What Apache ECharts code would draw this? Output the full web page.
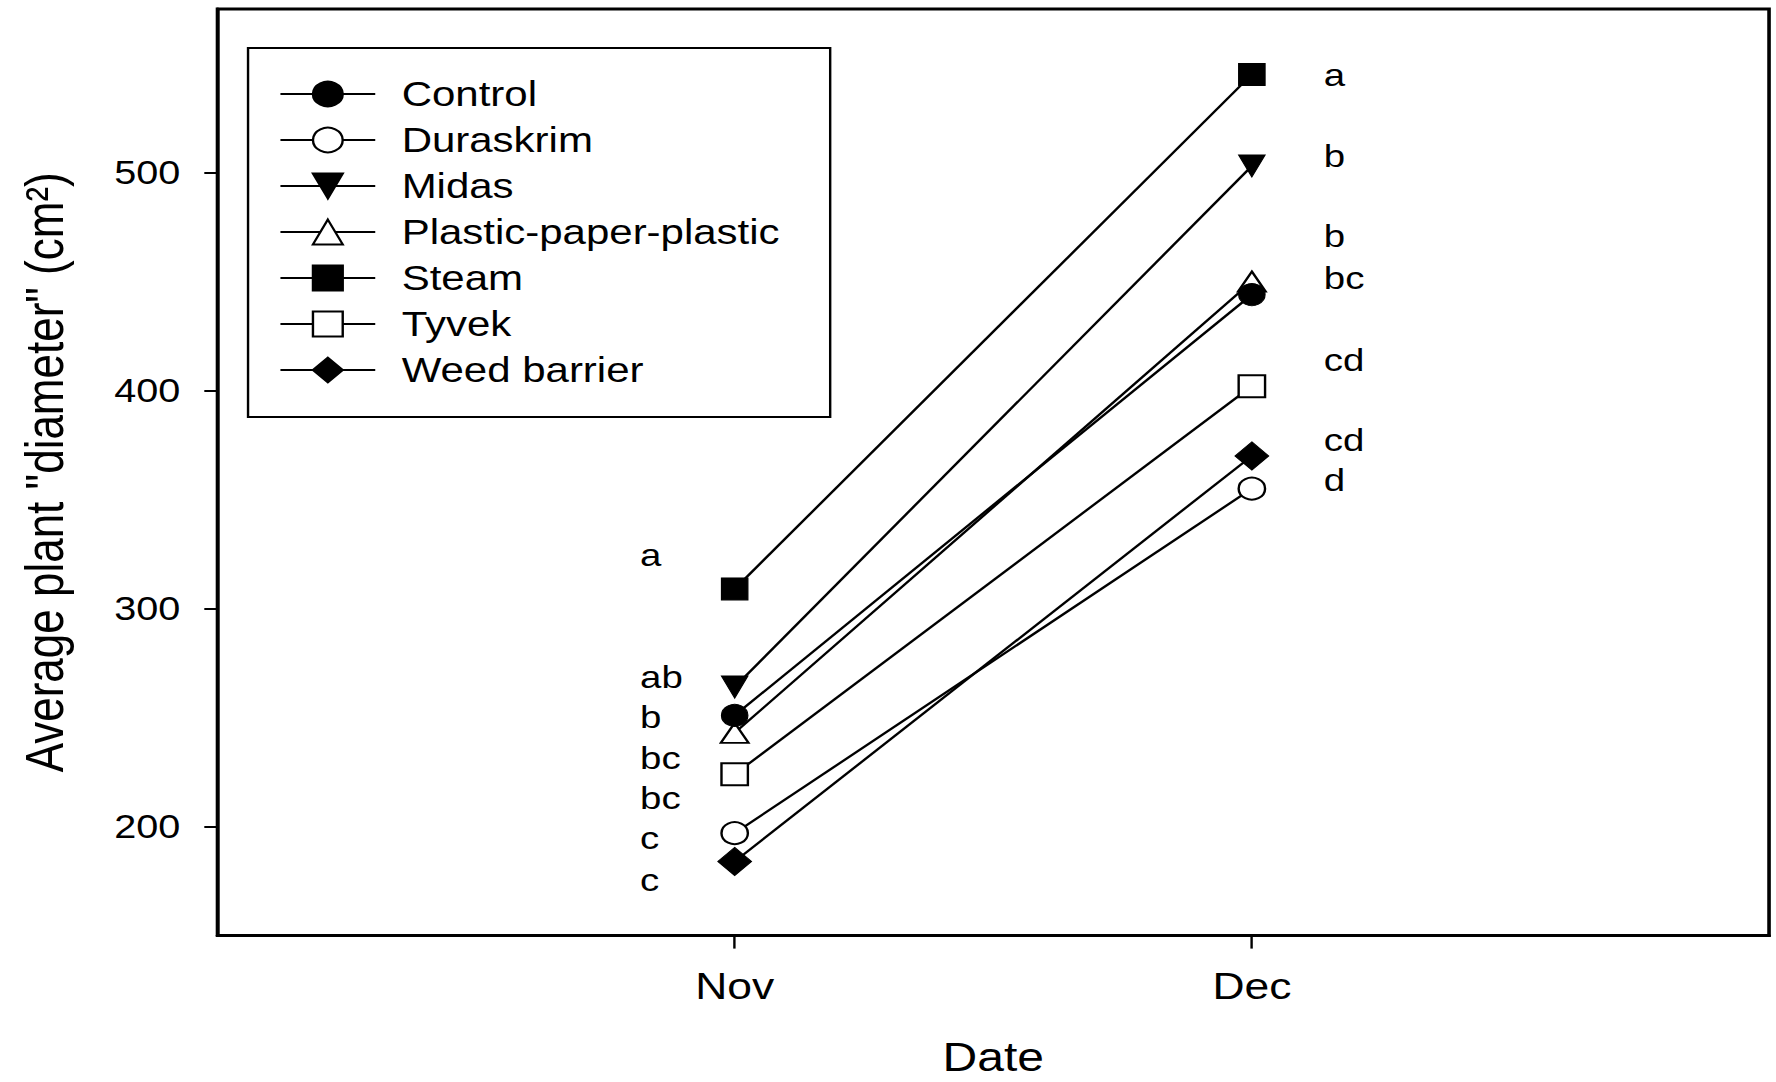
<!DOCTYPE html>
<html>
<head>
<meta charset="utf-8">
<script src="https://cdn.jsdelivr.net/npm/echarts@6/dist/echarts.min.js"></script>
<style>
  html, body { margin: 0; padding: 0; background: #fff; overflow: hidden; }
  #chart { width: 1480px; height: 1082px; transform: scaleX(1.2); transform-origin: 0 0; }
</style>
</head>
<body>
<div id="chart"></div>
<script>
// ---- data ----
const categories = ['Nov', 'Dec'];
const seriesNames = ['Control', 'Duraskrim', 'Midas', 'Plastic-paper-plastic', 'Steam', 'Tyvek', 'Weed barrier'];
const novValues = [251, 197, 264, 243, 309, 224, 184];
const decValues = [444, 355, 503, 450, 545, 402, 370];
const novLetters = ['a', 'ab', 'b', 'bc', 'bc', 'c', 'c'];
const novLetterY = [319.7, 263.8, 245.5, 226.5, 208.2, 190.0, 170.6];
const decLetters = ['a', 'b', 'b', 'bc', 'cd', 'cd', 'd'];
const decLetterY = [540, 502.5, 465.8, 446.7, 409.2, 372.5, 354.1];
const yTicks = [200, 300, 400, 500];
const yAxisTitle = 'Average plant "diameter" (cm\u00B2)';
const xAxisTitle = 'Date';

// ---- styles ----
const FONT = '"Liberation Sans", Arial, sans-serif';
const markerStyles = [
  { symbol: 'circle', size: 22, filled: true, rotate: 0, z: 3 },
  { symbol: 'circle', size: 22, filled: false, rotate: 0, z: 2 },
  { symbol: 'triangle', size: 22, filled: true, rotate: 180, z: 2 },
  { symbol: 'triangle', size: [23, 20], filled: false, rotate: 0, z: 2 },
  { symbol: 'rect', size: 22, filled: true, rotate: 0, z: 2 },
  { symbol: 'rect', size: 22, filled: false, rotate: 0, z: 2 },
  { symbol: 'diamond', size: 28, filled: true, rotate: 0, z: 2 }
];

const lineSeries = seriesNames.map((name, i) => {
  const m = markerStyles[i];
  return {
    name: name,
    type: 'line',
    z: m.z,
    symbol: m.symbol,
    symbolSize: m.size,
    symbolRotate: m.rotate,
    showAllSymbol: true,
    lineStyle: { color: '#000', width: 2.2 },
    itemStyle: m.filled
      ? { color: '#000', borderColor: '#000', borderWidth: 1 }
      : { color: '#fff', borderColor: '#000', borderWidth: 2 },
    emphasis: { disabled: true },
    data: [[1, novValues[i]], [2, decValues[i]]]
  };
});

const NOV_LETTER_X = 0.816;
const DEC_LETTER_X = 2.138;
const letterData = [];
novLetters.forEach((t, i) => letterData.push({ name: t, value: [NOV_LETTER_X, novLetterY[i]] }));
decLetters.forEach((t, i) => letterData.push({ name: t, value: [DEC_LETTER_X, decLetterY[i]] }));

const letterSeries = {
  name: 'letters',
  type: 'scatter',
  symbol: 'circle',
  symbolSize: 1,
  silent: true,
  itemStyle: { color: 'rgba(0,0,0,0)', borderWidth: 0 },
  label: {
    show: true,
    position: 'right',
    distance: 0,
    offset: [0, -11],
    formatter: p => p.name,
    color: '#000',
    opacity: 1,
    fontFamily: FONT,
    fontSize: 32
  },
  emphasis: { disabled: true },
  data: letterData
};

const chart = echarts.init(document.getElementById('chart'), null, { renderer: 'svg' });
chart.setOption({
  animation: false,
  backgroundColor: '#fff',
  grid: {
    left: 181.25, right: 5.8, top: 9, bottom: 146.4,
    containLabel: false,
    outerBoundsMode: 'none',
    show: true, borderColor: '#000', borderWidth: 3, backgroundColor: 'transparent'
  },
  legend: {
    data: seriesNames,
    orient: 'vertical',
    left: 206.7,
    top: 48,
    padding: [23, 42, 24, 26],
    itemGap: 0,
    itemWidth: 79,
    itemHeight: 31,
    borderColor: '#000',
    borderWidth: 2,
    backgroundColor: '#fff',
    selectedMode: false,
    textStyle: { color: '#000', fontFamily: FONT, fontSize: 35, lineHeight: 46, padding: [0, 0, 0, 17] }
  },
  xAxis: {
    type: 'value',
    min: 0, max: 3,
    name: xAxisTitle,
    nameLocation: 'middle',
    nameGap: 103,
    nameTextStyle: { color: '#000', fontFamily: FONT, fontSize: 40, lineHeight: 36 },
    axisLine: { show: true, lineStyle: { color: '#000', width: 3 } },
    axisTick: { show: true, customValues: [1, 2], length: 13, inside: false, lineStyle: { color: '#000', width: 2 } },
    axisLabel: {
      show: true, customValues: [1, 2], margin: 32,
      color: '#000', fontFamily: FONT, fontSize: 37,
      formatter: v => categories[Math.round(v) - 1] || ''
    },
    splitLine: { show: false }
  },
  yAxis: {
    type: 'value',
    min: 150, max: 575,
    name: yAxisTitle,
    nameLocation: 'middle',
    nameGap: 122,
    nameTextStyle: { color: '#000', fontFamily: FONT, fontSize: 44 },
    axisLine: { show: true, lineStyle: { color: '#000', width: 3 } },
    axisTick: { show: true, customValues: yTicks, length: 11, inside: false, lineStyle: { color: '#000', width: 2 } },
    axisLabel: {
      show: true, customValues: yTicks, margin: 31,
      color: '#000', fontFamily: FONT, fontSize: 33
    },
    splitLine: { show: false }
  },
  series: lineSeries.concat([letterSeries])
});
</script>
</body>
</html>
